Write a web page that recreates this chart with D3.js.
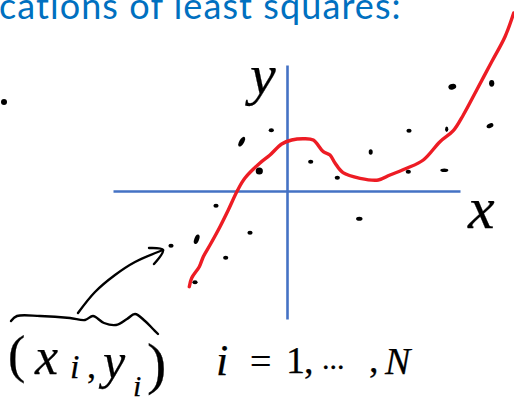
<!DOCTYPE html>
<html>
<head>
<meta charset="utf-8">
<script src="https://cdn.jsdelivr.net/npm/d3@7"></script>
<style>
html, body { margin: 0; padding: 0; background: #fff; overflow: hidden; }
svg { display: block; }
</style>
</head>
<body>
<div id="chart"></div>
<script>
// scattered observations, in axis units (origin where the blue axes cross)
var pointX = [-45.3, -15.7, -27.7, -71, -90.3, -116, -37, -61.3, -92, 23.7, 50.3,
              165.3, 204.7, 122, 159.7, 203, 83.7, 121.3, 157.3, 72.3];
var pointY = [49.3, 60.7, 20, -14.7, -48.3, -54.7, -41.7, -66.7, -91.3, 29.3, 13.3,
              104.3, 107.7, 60.3, 61.7, 65.3, 39, 19.3, 20.7, -27.7];

// fitted curve
var curveX = [-97.7, -95.3, -87.7, -83.7, -77, -67, -58.7, -49.3, -42, -27, -17, -5.3, 4.7, 16.3,
              26.3, 36.3, 43, 48, 56, 73, 91.3, 103, 119.7, 136.3, 153, 166.3, 176.3, 189.7, 204.7, 218, 226.7];
var curveY = [-95.7, -87, -75.7, -65.7, -54, -35.7, -19, 1, 13, 28, 36, 47, 51, 52.3,
              51, 39.3, 36, 28, 18.3, 12.7, 11, 16, 22.7, 31, 49.3, 60.3, 76, 101, 129.3, 154.3, 178];

var axisXExtent = [-174, 173];
var axisYExtent = [-128, 126];

var titleText = "cations of least squares:";

var width = 514, height = 402;

var x = d3.scaleLinear().domain([-287, 227]).range([0, width]);
var y = d3.scaleLinear().domain([191, -211]).range([0, height]);

var svg = d3.select("#chart").append("svg")
  .attr("width", width)
  .attr("height", height);

// slide title, sits against the top edge like the screenshot
svg.append("text")
  .attr("x", -1)
  .attr("y", 18.5)
  .style("font-family", "Lato")
  .style("font-size", "36px")
  .style("letter-spacing", "1.08px")
  .style("fill", "#0070C0")
  .text(titleText);

// slide bullet
svg.append("circle")
  .attr("cx", 4).attr("cy", 102).attr("r", 3)
  .style("fill", "#000");

// axes, no ticks
var xAxisScale = d3.scaleLinear().domain(axisXExtent).range(axisXExtent.map(x));
var yAxisScale = d3.scaleLinear().domain(axisYExtent).range(axisYExtent.map(y));

svg.append("g")
  .attr("transform", "translate(0," + y(0) + ")")
  .call(d3.axisBottom(xAxisScale).tickValues([]).tickSizeOuter(0));
svg.append("g")
  .attr("transform", "translate(" + x(0) + ",0)")
  .call(d3.axisLeft(yAxisScale).tickValues([]).tickSizeOuter(0));
svg.selectAll(".domain")
  .style("stroke", "#4472C4")
  .style("stroke-width", 2.6);

// red curve
var curve = d3.line()
  .x(function(d, i) { return x(d); })
  .y(function(d, i) { return y(curveY[i]); })
  .curve(d3.curveCatmullRom);

svg.append("path")
  .attr("d", curve(curveX))
  .style("fill", "none")
  .style("stroke", "#ED1C24")
  .style("stroke-width", 3.4)
  .style("stroke-linecap", "round");

// dots, a few are smudged so they get their own shape
var dotShape = {0: [2.4, 5.5, 30], 2: [3.6, 3.6, 0], 4: [2.4, 5, 20], 12: [2.6, 3.4, 0], 14: [1.6, 2.8, 0],
                11: [4, 2.8, -15], 16: [2, 2.8, 0], 15: [3.6, 2.2, -25], 18: [4, 1.8, 0], 19: [3.2, 2, 0]};

svg.selectAll("ellipse.dot")
  .data(pointX)
  .enter()
  .append("ellipse")
    .attr("class", "dot")
    .attr("cx", function(d) { return x(d); })
    .attr("cy", function(d, i) { return y(pointY[i]); })
    .attr("rx", function(d, i) { return dotShape[i] ? dotShape[i][0] : 2.6; })
    .attr("ry", function(d, i) { return dotShape[i] ? dotShape[i][1] : 2; })
    .attr("transform", function(d, i) {
      return dotShape[i] ? "rotate(" + dotShape[i][2] + " " + x(d) + " " + y(pointY[i]) + ")" : null;
    })
    .style("fill", "#000");

// brace and arrow, handwritten annotation strokes
var ink = d3.line().curve(d3.curveCatmullRom);
var inkStrokes = [
  [[11, 321], [17, 316], [40, 316], [70, 318], [85, 320], [93, 316], [104, 323], [116, 325], [127, 319], [135, 314], [145, 321], [153, 329], [158, 334]],
  [[78, 313], [95, 292], [115, 275], [135, 262], [163, 250]],
  [[149, 248], [163, 250], [154, 264]]
];
svg.selectAll("path.ink")
  .data(inkStrokes)
  .enter()
  .append("path")
    .attr("class", "ink")
    .attr("d", ink)
    .style("fill", "none")
    .style("stroke", "#000")
    .style("stroke-width", 2.4)
    .style("stroke-linecap", "round");

// handwritten labels kept as text
function label(tx, ty, size, str, upright) {
  return svg.append("text")
    .attr("x", tx)
    .attr("y", ty)
    .style("font-family", "Liberation Serif")
    .style("font-style", upright ? "normal" : "italic")
    .style("font-size", size + "px")
    .style("fill", "#000")
    .style("stroke", "#000")
    .style("stroke-width", 0.25)
    .text(str);
}

label(250, 94, 58, "y");
label(468, 228, 60, "x");
label(8, 372, 52, "(", true);
label(35, 374, 52, "x");
label(70, 378, 34, "i");
label(87, 378, 36, ",", true);
label(103, 378, 50, "y");
label(133, 396, 30, "i");
label(147, 383, 58, ")", true);
label(216, 375, 44, "i");
label(250, 374, 38, "=", true);
label(286, 373, 38, "1", true);
label(304, 373, 38, ",", true);
label(322, 369, 30, "...", true);
label(369, 372, 38, ",", true);
label(385, 374, 38, "N");
</script>
</body>
</html>
